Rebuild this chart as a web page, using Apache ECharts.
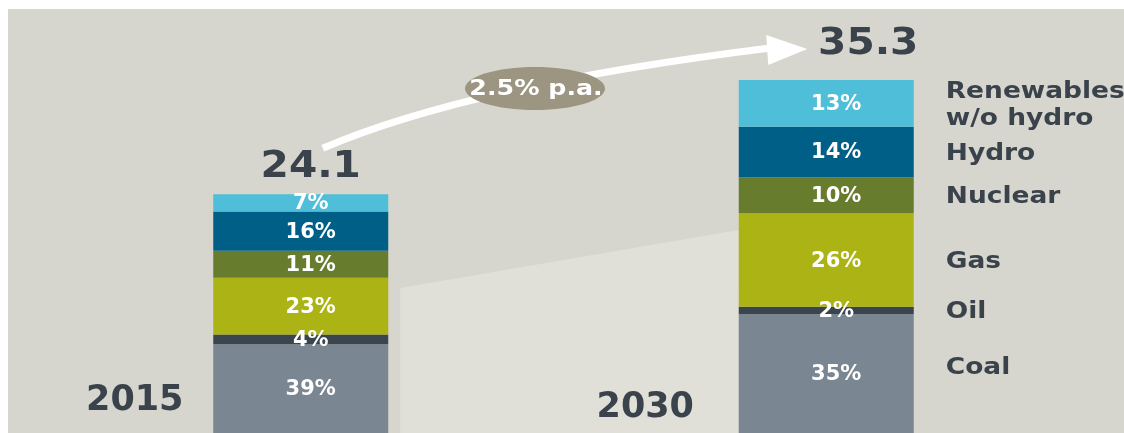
<!DOCTYPE html>
<html>
<head>
<meta charset="utf-8">
<script src="https://cdn.jsdelivr.net/npm/echarts@6/dist/echarts.min.js"></script>
<style>
  html, body { margin: 0; padding: 0; background: #fff; }
  #main { width: 1124px; height: 433px; }
</style>
</head>
<body>
<div id="main"></div>
<script>
// ==================
// data
// ==================
const years = ['2015', '2030'];
const totals = [24.1, 35.3];
const sources = ['Coal', 'Oil', 'Gas', 'Nuclear', 'Hydro', 'Renewables\nw/o hydro'];
const share2015 = [39, 4, 23, 11, 16, 7];
const share2030 = [35, 2, 26, 10, 14, 13];
const growthText = '2.5% p.a.';
const colors = ['#7a8691', '#3b454d', '#abb414', '#677c2c', '#005f87', '#4fbed8'];

const textDark = '#3a434b';
const font = 'DejaVu Sans';

function buildSeries() {
  return sources.map((name, i) => {
    const shares = [share2015[i], share2030[i]];
    return {
      name: name,
      type: 'bar',
      stack: 'total',
      barWidth: 175,
      z: 2,
      itemStyle: { color: colors[i] },
      label: {
        show: true,
        position: 'inside',
        offset: [10, 1],
        color: '#fff',
        fontFamily: font,
        fontWeight: 'bold',
        fontSize: 21,
        formatter: p => shares[p.dataIndex] + '%'
      },
      data: shares.map((s, j) => +(s * totals[j] / 100).toFixed(3))
    };
  });
}

const chart = echarts.init(document.getElementById('main'));
// bars start at 0, which sits a little below the visible bottom edge
chart.setOption({
  backgroundColor: '#fff',
  animation: false,
  grid: { left: 38, width: 1051, top: 32, height: 401 },
  xAxis: { type: 'category', data: years, show: false },
  yAxis: { type: 'value', min: 0.7, max: 40, show: false },
  series: buildSeries()
});

// annotations placed from the chart's own scale
function px(idx, v) {
  return chart.convertToPixel({ gridIndex: 0 }, [idx, v]);
}

function drawExtras() {
  const W = chart.getWidth(), H = chart.getHeight();
  const half = 175 / 2;
  const top1 = px(0, totals[0]), top2 = px(1, totals[1]);
  const g = [];

  g.push({ type: 'rect', z: 0, silent: true, shape: { x: 8, y: 9, width: W - 8, height: H - 9 }, style: { fill: '#d7d6ce' } });
  g.push({
    type: 'polygon', z: 1, silent: true,
    shape: { points: [[top1[0] + half + 12, 288], [top2[0] - half, 230], [top2[0] - half, H], [top1[0] + half + 12, H]] },
    style: { fill: '#e0dfd8' }
  });

  // year labels
  const yearDx = [-166, -181], yearY = [401, 408];
  years.forEach((y, j) => {
    const c = px(j, 0);
    g.push({ type: 'text', z: 100, x: c[0] + yearDx[j], y: yearY[j],
      style: { text: y, font: 'bold 35px ' + font, fill: textDark, align: 'center', verticalAlign: 'middle' } });
  });

  // totals
  const totDx = [10, 42], totDy = [-27, -36];
  const tops = [top1, top2];
  totals.forEach((t, j) => {
    g.push({ type: 'text', z: 100, x: tops[j][0] + totDx[j], y: tops[j][1] + totDy[j], scaleX: 1.07,
      style: { text: t.toFixed(1), font: 'bold 38px ' + font, fill: textDark, align: 'center', verticalAlign: 'middle' } });
  });

  // growth arrow
  const p0 = [top1[0] + 22, top1[1] - 46];
  const p2 = [top2[0] - 56, top2[1] - 32];
  const cp = [470, 85];
  g.push({ type: 'bezierCurve', z: 90, silent: true,
    shape: { x1: p0[0], y1: p0[1], x2: p2[0], y2: p2[1], cpx1: cp[0], cpy1: cp[1] },
    style: { stroke: '#fff', lineWidth: 7, fill: null } });
  g.push({ type: 'polygon', z: 90, silent: true,
    shape: { points: [[p2[0] - 4, p2[1] - 13], [p2[0] + 37, p2[1] + 1], [p2[0] - 2, p2[1] + 17]] },
    style: { fill: '#fff' } });
  const t = 0.55;
  const ex = (1 - t) * (1 - t) * p0[0] + 2 * t * (1 - t) * cp[0] + t * t * p2[0];
  const ey = (1 - t) * (1 - t) * p0[1] + 2 * t * (1 - t) * cp[1] + t * t * p2[1];
  g.push({ type: 'ellipse', z: 95, silent: true, shape: { cx: ex + 4, cy: ey + 2, rx: 70, ry: 21.5 }, style: { fill: '#9b9582' } });
  g.push({ type: 'text', z: 100, x: ex + 5, y: ey + 3, scaleX: 1.15,
    style: { text: growthText, font: 'bold 22px ' + font, fill: '#fff', align: 'center', verticalAlign: 'middle' } });

  // source names beside the 2030 bar
  let cum = 0;
  sources.forEach((name, i) => {
    const v = share2030[i] * totals[1] / 100;
    const a = px(1, cum)[1], b = px(1, cum + v)[1];
    cum += v;
    let y = (Math.min(a, H) + b) / 2 + 2;
    if (i === 0) y = (Math.min(a, H) + b) / 2 - 6;
    g.push({ type: 'text', z: 100, x: top2[0] + half + 32, y: y, scaleX: 1.15,
      style: { text: name, font: 'bold 23px ' + font, lineHeight: 27, fill: textDark, align: 'left', verticalAlign: 'middle' } });
  });

  chart.setOption({ graphic: g });
}

drawExtras();
</script>
</body>
</html>
